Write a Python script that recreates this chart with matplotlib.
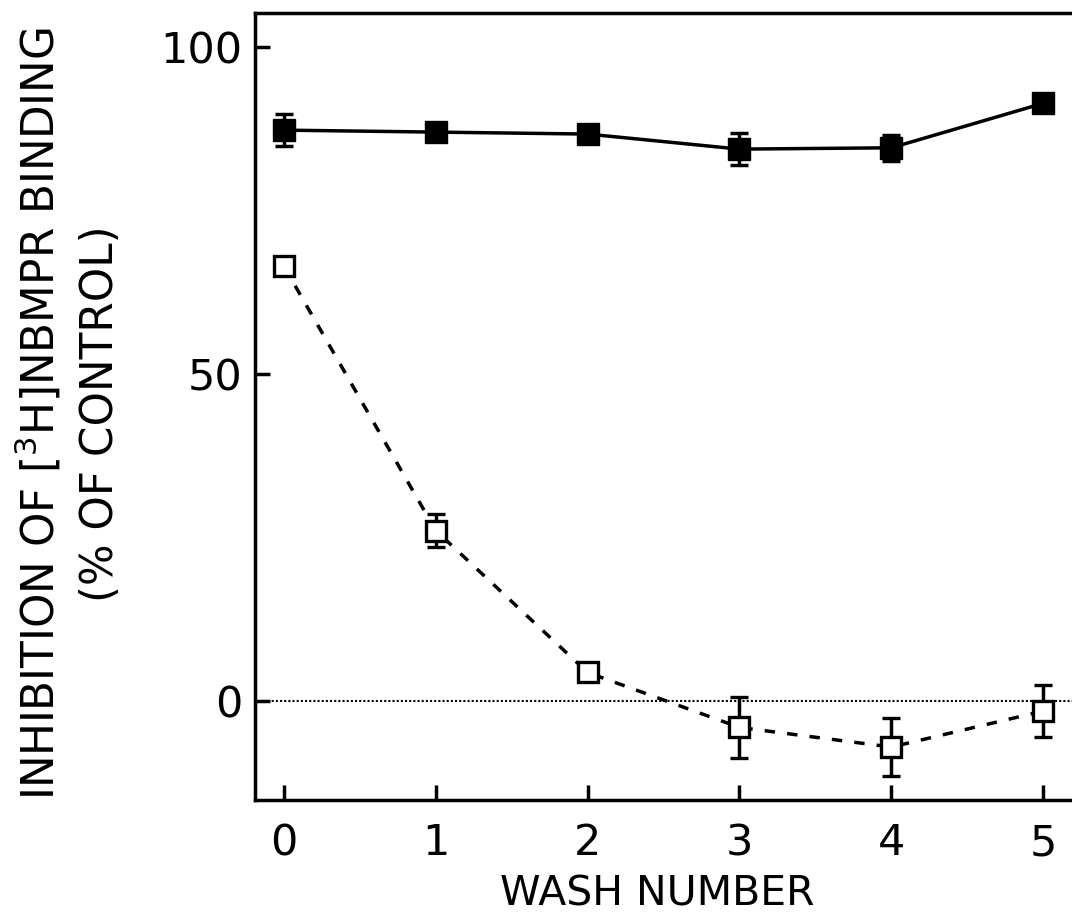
import matplotlib.pyplot as plt
import numpy as np

wash = [0, 1, 2, 3, 4, 5]

# filled squares (solid line)
filled_y = [87.3, 87.0, 86.7, 84.4, 84.6, 91.4]
filled_err = [2.4, 0, 0, 2.4, 2.0, 0]

# open squares (dashed line)
open_y = [66.5, 26.1, 4.4, -4.0, -7.0, -1.5]
open_err = [0, 2.5, 0, 4.7, 4.4, 4.0]

fig = plt.figure(figsize=(10.72, 9.18), dpi=100)
ax = fig.add_axes([0.2379, 0.1285, 0.7621, 0.8573])

ax.axhline(0, color="k", lw=1.5, ls=(0, (1, 1)), zorder=1)

ax.errorbar(wash, filled_y, yerr=filled_err, fmt="s-", color="k", mfc="k", mec="k",
            ms=16, lw=2.5, elinewidth=2.5, capsize=6.5, capthick=2.5, zorder=3)
ax.errorbar(wash, open_y, yerr=open_err, fmt="s", color="k", mfc="white", mec="k",
            ms=14, mew=2.4, elinewidth=2.5, capsize=6.5, capthick=2.5, zorder=3)
ax.plot(wash, open_y, color="k", lw=2.5, ls=(0, (3, 3.5)), zorder=2)

ax.set_xlim(-0.19, 5.19)
ax.set_ylim(-15.1, 105.2)
ax.set_xticks(wash)
ax.set_yticks([0, 50, 100])
ax.spines["right"].set_visible(False)
for s in ["left", "bottom", "top"]:
    ax.spines[s].set_linewidth(2.5)
ax.tick_params(direction="in", length=11, width=2.5, labelsize=31)
ax.tick_params(axis="x", pad=16)
ax.tick_params(axis="y", pad=9)

fig.text(0.613, 1 - 906 / 918, "WASH NUMBER", fontsize=29.5, ha="center", va="baseline")
fig.text(38 / 1072, 1 - 414 / 918, "INHIBITION OF [$^{3}$H]NBMPR BINDING", fontsize=31.5,
         rotation=90, ha="center", va="center")
fig.text(101 / 1072, 1 - 414 / 918, "(% OF CONTROL)", fontsize=31.5,
         rotation=90, ha="center", va="center")

plt.savefig("out.png", dpi=100)
